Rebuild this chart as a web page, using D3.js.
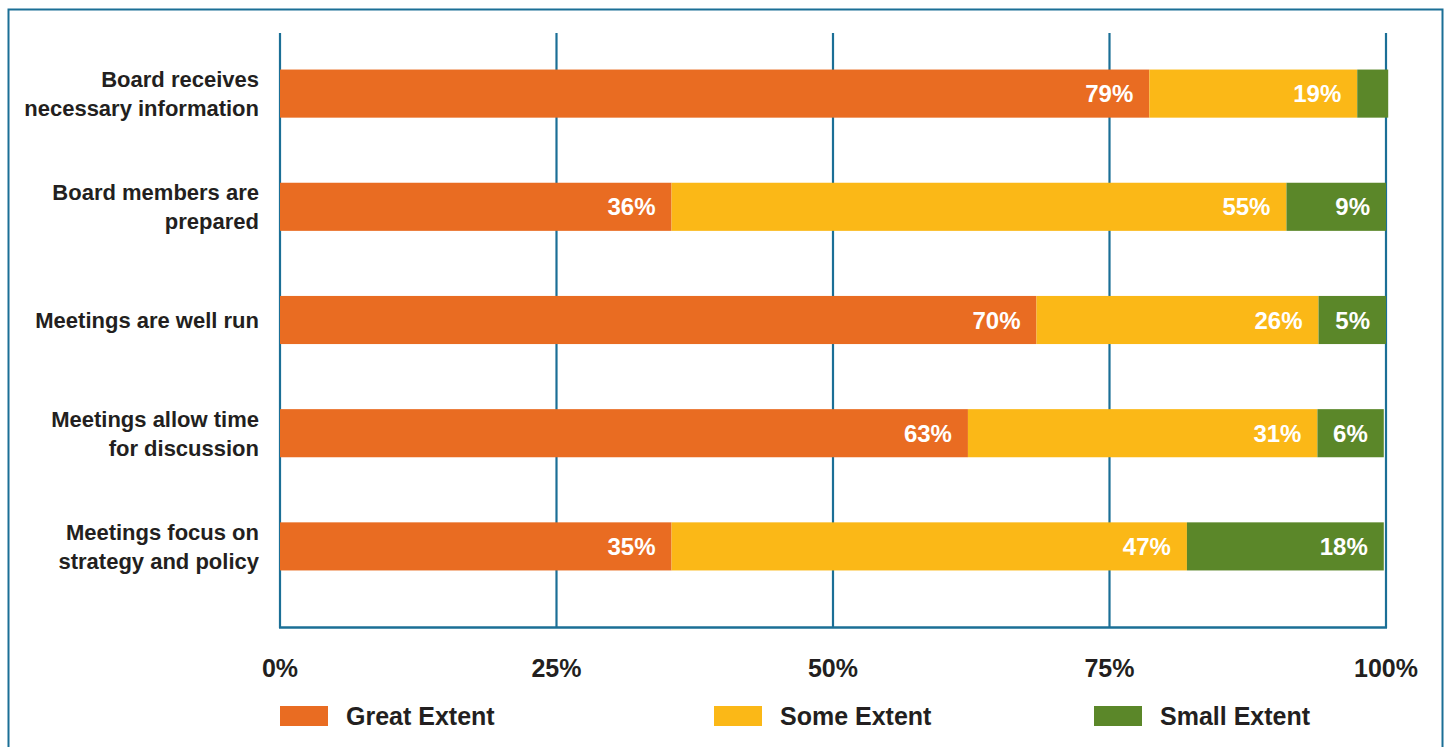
<!DOCTYPE html>
<html><head><meta charset="utf-8">
<script src="https://cdn.jsdelivr.net/npm/d3@7"></script>
<style>html,body{margin:0;padding:0;background:#fff;}svg{display:block;}</style>
</head><body>
<svg id="c" width="1448" height="747"></svg>
<script>
const categories = [
  ["Board receives", "necessary information"],
  ["Board members are", "prepared"],
  ["Meetings are well run"],
  ["Meetings allow time", "for discussion"],
  ["Meetings focus on", "strategy and policy"]
];
const seriesNames = ["Great Extent", "Some Extent", "Small Extent"];
const greatValues = [78.6, 35.4, 68.4, 62.2, 35.4];
const someValues  = [18.8, 55.6, 25.5, 31.6, 46.6];
const smallValues = [2.8, 9.0, 6.1, 6.0, 17.8];
const greatLabels = ["79%", "36%", "70%", "63%", "35%"];
const someLabels  = ["19%", "55%", "26%", "31%", "47%"];
const smallLabels = ["", "9%", "5%", "6%", "18%"];
const tickValues = [0, 25, 50, 75, 100];
const tickLabels = ["0%", "25%", "50%", "75%", "100%"];
const colors = ["#E96C22", "#FBB817", "#5B8729"];

const svg = d3.select("#c");
const font = "'Liberation Sans', Arial, sans-serif";
const gridColor = "#1b6f96";
const textColor = "#231f20";

svg.append("rect").attr("x", 8.5).attr("y", 9.5).attr("width", 1434).attr("height", 800)
  .attr("fill", "none").attr("stroke", gridColor).attr("stroke-width", 2);

const x = d3.scaleLinear().domain([0, 100]).range([280, 1386]);
const y = d3.scaleBand().domain(d3.range(categories.length)).range([37, 603])
  .paddingInner(0.575).paddingOuter(0.2875);

// gridlines
svg.append("g").selectAll("line").data(tickValues).join("line")
  .attr("x1", d => x(d)).attr("x2", d => x(d)).attr("y1", 33).attr("y2", 628)
  .attr("stroke", gridColor).attr("stroke-width", 2.2);
svg.append("line").attr("x1", x(0) - 1).attr("x2", x(100) + 1).attr("y1", 627.5).attr("y2", 627.5)
  .attr("stroke", gridColor).attr("stroke-width", 2.5);

const series = [greatValues, someValues, smallValues];
const labels = [greatLabels, someLabels, smallLabels];
const rows = categories.map((c, i) => {
  let acc = 0;
  return series.map((s, k) => {
    const seg = {i, k, x0: acc, x1: acc + s[i], label: labels[k][i]};
    acc += s[i];
    return seg;
  });
}).flat();

svg.append("g").selectAll("rect").data(rows).join("rect")
  .attr("x", d => x(d.x0)).attr("width", d => x(d.x1) - x(d.x0))
  .attr("y", d => y(d.i)).attr("height", y.bandwidth())
  .attr("fill", d => colors[d.k]);

svg.append("g").selectAll("text").data(rows.filter(d => d.label)).join("text")
  .attr("x", d => x(d.x1) - 16).attr("y", d => y(d.i) + y.bandwidth() / 2)
  .attr("dy", "0.36em").attr("text-anchor", "end")
  .attr("fill", "#fff").attr("font-family", font).attr("font-weight", "bold")
  .attr("font-size", 24).text(d => d.label);

// category labels
const catSize = 22, lineH = 29;
const cl = svg.append("g").selectAll("text").data(categories).join("text")
  .attr("text-anchor", "end").attr("font-family", font).attr("font-weight", "bold")
  .attr("font-size", catSize).attr("fill", textColor)
  .attr("x", 259)
  .attr("y", (d, i) => y(i) + y.bandwidth() / 2);
cl.selectAll("tspan").data(d => d.map((t, j) => ({t, j, n: d.length}))).join("tspan")
  .attr("x", 259)
  .attr("dy", d => d.j === 0 ? (0.36 * catSize - (d.n - 1) * lineH / 2) : lineH)
  .text(d => d.t);

// tick labels
svg.append("g").selectAll("text").data(tickValues).join("text")
  .attr("x", d => x(d)).attr("y", 668).attr("dy", "0.36em").attr("text-anchor", "middle")
  .attr("font-family", font).attr("font-weight", "bold").attr("font-size", 25)
  .attr("fill", textColor).text((d, i) => tickLabels[i]);

// legend
const legendX = [280, 714, 1094];
const lg = svg.append("g").selectAll("g").data(seriesNames).join("g")
  .attr("transform", (d, i) => `translate(${legendX[i]},706)`);
lg.append("rect").attr("width", 48).attr("height", 20).attr("fill", (d, i) => colors[i]);
lg.append("text").attr("x", 66).attr("y", 10).attr("dy", "0.36em")
  .attr("font-family", font).attr("font-weight", "bold").attr("font-size", 25)
  .attr("fill", textColor).text(d => d);
</script>
</body></html>
